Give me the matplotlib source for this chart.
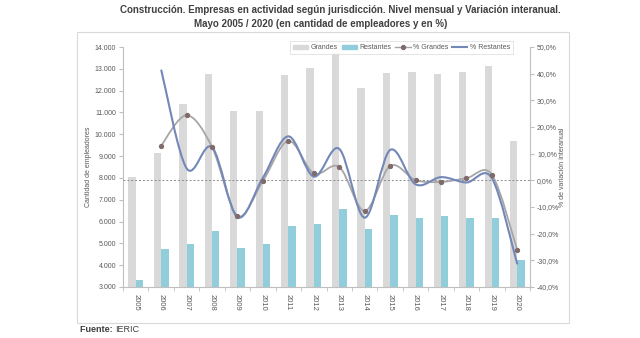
import matplotlib.pyplot as plt
from matplotlib.path import Path
from matplotlib.patches import PathPatch, Patch, Rectangle
from matplotlib.lines import Line2D
from matplotlib.ticker import FuncFormatter, MultipleLocator, FixedLocator
import numpy as np

plt.rcParams['font.family'] = ['Liberation Sans', 'DejaVu Sans']

years = [str(y) for y in range(2005, 2021)]
grandes = [8050, 9120, 11370, 12780, 11080, 11060, 12720, 13050, 13710, 12140,
           12810, 12840, 12760, 12870, 13130, 9690]
restantes = [3340, 4720, 4960, 5570, 4810, 4960, 5800, 5880, 6570, 5650,
             6290, 6140, 6250, 6170, 6170, 4230]
# variacion interanual, desde 2006
pct_grandes = [13.0, 24.4, 12.5, -13.3, -0.2, 14.8, 2.6, 5.0, -11.5, 5.4,
               0.1, -0.6, 0.8, 2.1, -26.2]
pct_restantes = [41.5, 4.5, 12.4, -13.8, 1.0, 16.5, 1.4, 11.8, -14.0, 11.4,
                 -1.5, 1.2, -0.8, 0.8, -31.5]

c_grey = '#d9d9d9'
c_blue = '#92cddc'
c_line_g = '#a6a6a6'
c_line_b = '#7388b8'
c_text = '#595959'


def smooth_path(xs, ys):
    # curva suavizada tipo Excel (Bezier por tramos)
    pts = np.column_stack([xs, ys]).astype(float)
    n = len(pts)
    verts = [pts[0]]
    codes = [Path.MOVETO]
    for i in range(n - 1):
        p0 = pts[max(i - 1, 0)]
        p1 = pts[i]
        p2 = pts[i + 1]
        p3 = pts[min(i + 2, n - 1)]
        verts += [p1 + (p2 - p0) / 6, p2 - (p3 - p1) / 6, p2]
        codes += [Path.CURVE4] * 3
    return Path(verts, codes)


fig = plt.figure(figsize=(6.4, 3.38), dpi=100)
fig.patches.append(Rectangle((0.1203, 0.0444), 0.769, 0.861, transform=fig.transFigure,
                             fill=False, edgecolor='#d9d9d9', lw=0.8))

ax = fig.add_axes([0.1922, 0.1509, 0.636, 0.710])
x = np.arange(len(years))
w = 0.29
ax.bar(x - w / 2, grandes, w, color=c_grey, zorder=2)
ax.bar(x + w / 2, restantes, w, color=c_blue, zorder=2)
ax.set_xlim(-0.5, len(years) - 0.5)
ax.set_ylim(3000, 14000)
ax.yaxis.set_major_locator(MultipleLocator(1000))
ax.yaxis.set_major_formatter(FuncFormatter(lambda v, p: f'{int(v):,}'.replace(',', '.')))
ax.set_xticks(x)
ax.set_xticklabels(years, rotation=-90)
ax.xaxis.set_minor_locator(FixedLocator(np.arange(-0.5, len(years), 1)))
ax.tick_params(axis='x', which='major', length=0, pad=5, labelsize=5.5, colors=c_text)
ax.tick_params(axis='x', which='minor', length=3, color='#bfbfbf')
ax.tick_params(axis='y', length=3, color='#bfbfbf', labelsize=5, labelcolor=c_text, pad=2)
for s in ['top', 'right']:
    ax.spines[s].set_visible(False)
for s in ['left', 'bottom']:
    ax.spines[s].set_color('#bfbfbf')
    ax.spines[s].set_linewidth(0.8)

ax2 = ax.twinx()
ax2.set_ylim(-40, 50)
ax2.yaxis.set_major_locator(MultipleLocator(10))
ax2.yaxis.set_major_formatter(FuncFormatter(lambda v, p: f'{v:.1f}%'.replace('.', ',')))
ax2.tick_params(axis='y', length=3, color='#bfbfbf', labelsize=5, labelcolor=c_text, pad=2)
for s in ['top', 'left', 'bottom']:
    ax2.spines[s].set_visible(False)
ax2.spines['right'].set_color('#bfbfbf')
ax2.spines['right'].set_linewidth(0.8)

ax2.axhline(0, color='#8c8c8c', lw=0.7, ls=(0, (2, 2)), zorder=1)

xp = x[1:]
ax2.add_patch(PathPatch(smooth_path(xp, pct_grandes), fill=False,
                        edgecolor=c_line_g, lw=1.3, zorder=3))
ax2.plot(xp, pct_grandes, ls='none', marker='o', ms=2.8, color='#806a6a', zorder=4)
ax2.add_patch(PathPatch(smooth_path(xp, pct_restantes), fill=False,
                        edgecolor=c_line_b, lw=1.5, zorder=3))

handles = [Patch(color=c_grey), Patch(color=c_blue),
           Line2D([], [], color=c_line_g, marker='o', ms=2.8, mfc='#806a6a', mec='#806a6a', lw=1),
           Line2D([], [], color=c_line_b, lw=1.5)]
leg = ax2.legend(handles, ['Grandes', 'Restantes', '% Grandes', '% Restantes'],
                 loc='upper right', bbox_to_anchor=(516 / 640, 1 - 38 / 338),
                 bbox_transform=fig.transFigure, ncol=4, fontsize=5,
                 frameon=True, fancybox=False, edgecolor='#d9d9d9', handlelength=2.2,
                 handleheight=0.5, columnspacing=0.6, handletextpad=0.3,
                 borderpad=0.4)
leg.get_frame().set_linewidth(0.6)
for t in leg.get_texts():
    t.set_color(c_text)

fig.text(88 / 640, 0.506, 'Cantidad de empleadores', rotation=90, ha='center', va='center',
         fontsize=5, color=c_text)
fig.text(563 / 640, 0.506, '% de variación interanual', rotation=90, ha='center', va='center',
         fontsize=5, color=c_text)

fig.text(340 / 640, 1 - 10 / 338,
         'Construcción. Empresas en actividad según jurisdicción. Nivel mensual y Variación interanual.',
         ha='center', va='center', fontsize=7, fontweight='bold', color='#404040')
fig.text(321 / 640, 1 - 24 / 338, 'Mayo 2005 / 2020 (en cantidad de empleadores y en %)',
         ha='center', va='center', fontsize=7, fontweight='bold', color='#404040')

src = fig.text(80 / 640, 1 - 330 / 338, 'Fuente: ', ha='left', va='center', fontsize=6.5,
               fontweight='bold', color='#404040')
plt.annotate('IERIC', xy=(1, 0.5), xycoords=src, ha='left', va='center',
             fontsize=6.5, color='#404040')

fig.savefig('out.png', dpi=100)
